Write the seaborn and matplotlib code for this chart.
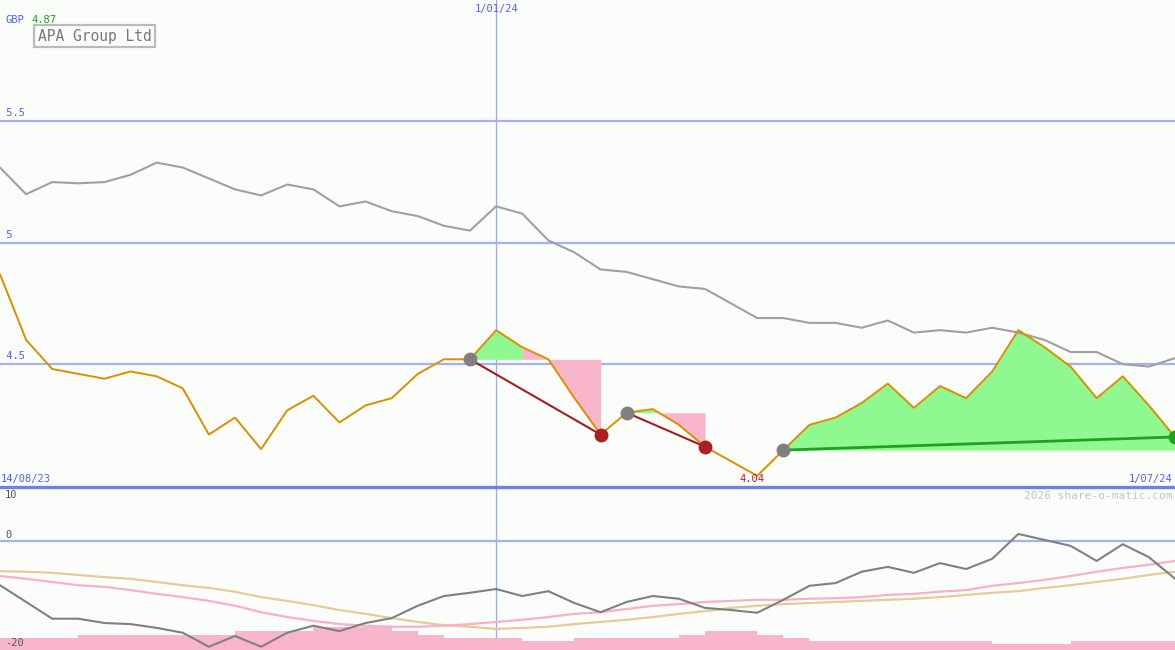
import matplotlib
matplotlib.use('Agg')
import matplotlib.pyplot as plt
import pandas as pd
import seaborn as sns

# weekly closes, APA Group Ltd (GBP) and comparison index (rescaled)
weeks = pd.date_range('2023-08-21', periods=46, freq='7D')
price = [4.87, 4.60, 4.48, 4.46, 4.44, 4.47, 4.45, 4.40, 4.21, 4.28,
         4.15, 4.31, 4.37, 4.26, 4.33, 4.36, 4.46, 4.52, 4.52, 4.64,
         4.57, 4.52, 4.36, 4.21, 4.30, 4.315, 4.25, 4.16, 4.10, 4.04,
         4.146, 4.25, 4.28, 4.34, 4.42, 4.32, 4.41, 4.36, 4.47, 4.64,
         4.57, 4.49, 4.36, 4.45, 4.33, 4.20]
index_line = [5.31, 5.20, 5.25, 5.245, 5.25, 5.28, 5.33, 5.31, 5.265, 5.22,
              5.195, 5.24, 5.22, 5.15, 5.17, 5.13, 5.11, 5.07, 5.05, 5.15,
              5.12, 5.01, 4.96, 4.89, 4.88, 4.85, 4.82, 4.81, 4.75, 4.69,
              4.69, 4.67, 4.67, 4.65, 4.68, 4.63, 4.64, 4.63, 4.65, 4.63,
              4.60, 4.55, 4.55, 4.50, 4.49, 4.525]

# lower panel: momentum and two moving averages
momentum = [-8.2, -11.3, -14.4, -14.4, -15.2, -15.4, -16.1, -17.0, -19.6, -17.6,
            -19.6, -17.0, -15.7, -16.7, -15.2, -14.3, -12.0, -10.2, -9.6, -8.9,
            -10.2, -9.3, -11.5, -13.2, -11.3, -10.2, -10.7, -12.4, -12.8, -13.3,
            -10.9, -8.3, -7.8, -5.7, -4.8, -5.9, -4.1, -5.2, -3.3, 1.3,
            0.2, -0.9, -3.7, -0.6, -3.0, -7.0]
ma_fast = [-6.5, -7.0, -7.6, -8.2, -8.5, -9.1, -9.8, -10.4, -11.1, -12.0,
           -13.2, -14.1, -14.8, -15.4, -15.7, -15.9, -15.9, -15.7, -15.4, -15.0,
           -14.6, -14.1, -13.5, -13.2, -12.6, -12.0, -11.7, -11.3, -11.1, -10.9,
           -10.9, -10.7, -10.6, -10.4, -10.0, -9.8, -9.4, -9.1, -8.3, -7.8,
           -7.2, -6.5, -5.7, -5.0, -4.4, -3.7]
ma_slow = [-5.6, -5.7, -5.9, -6.3, -6.7, -7.0, -7.6, -8.2, -8.7, -9.4,
           -10.4, -11.1, -11.9, -12.8, -13.5, -14.3, -15.0, -15.6, -15.9, -16.3,
           -16.1, -15.9, -15.4, -15.0, -14.6, -14.1, -13.5, -13.0, -12.4, -12.0,
           -11.7, -11.5, -11.3, -11.1, -10.9, -10.7, -10.4, -10.0, -9.6, -9.3,
           -8.7, -8.2, -7.6, -7.0, -6.3, -5.7]
volume_top = [-18.0, -18.0, -18.0, -17.4, -17.4, -17.4, -17.4, -17.4, -17.4, -16.7,
              -16.7, -16.7, -15.9, -15.9, -15.9, -16.7, -17.4, -18.0, -18.0, -18.0,
              -18.5, -18.5, -18.0, -18.0, -18.0, -18.0, -17.4, -16.7, -16.7, -17.4,
              -18.0, -18.5, -18.5, -18.5, -18.5, -18.5, -18.5, -18.5, -19.1, -19.1,
              -19.1, -18.5, -18.5, -18.5, -18.5]

# trades: (start week, end week, split week where green turns pink)
trades = [(18, 23, 20), (24, 27, 25), (30, 45, 45)]

bg = '#fbfdfb'
green_fill = '#90f890'
pink_fill = '#f9b5ca'
grid_blue = '#a4b0f0'
label_blue = '#5060f0'

sns.set_style('white')
plt.rcParams['font.family'] = ['DejaVu Sans Mono']

fig = plt.figure(figsize=(11.75, 6.5), dpi=100, facecolor=bg)
ax = fig.add_axes([0, 163 / 650, 1, 487 / 650], facecolor=bg)
ax2 = fig.add_axes([0, 0, 1, 163 / 650], facecolor=bg)

for a in (ax, ax2):
    for s in a.spines.values():
        s.set_visible(False)
    a.set_xticks([])
    a.set_yticks([])
    a.set_xlim(weeks[0], weeks[-1])
    a.axvline(pd.Timestamp('2024-01-01'), color='#a0a8ee', lw=0.9, zorder=1)

ax.set_ylim(3.994, 6.0)
ax2.set_ylim(-20.2, 10)

for lvl in [5.5, 5.0, 4.5]:
    ax.axhline(lvl, color=grid_blue, lw=1.6, zorder=1)
    ax.text(weeks[0], lvl + 0.012, ' ' + str(lvl).rstrip('0').rstrip('.'),
            color=label_blue, fontsize=7.5, va='bottom', ha='left')

# trade shading and markers
for s, e, m in trades:
    lvl = price[s]
    ax.fill_between(weeks[s:m + 1], price[s:m + 1], lvl, color=green_fill,
                    lw=0, zorder=2)
    if e > m:
        ax.fill_between(weeks[m:e + 1], price[m:e + 1], lvl, color=pink_fill,
                        lw=0, zorder=2)

sns.lineplot(x=weeks, y=index_line, ax=ax, color='#a0a0a0', lw=1.5, zorder=3)
sns.lineplot(x=weeks, y=price, ax=ax, color='#d99000', lw=1.4, zorder=4)

for s, e, m in trades:
    win = price[e] > price[s]
    col = '#22a022' if win else '#a02020'
    ax.plot([weeks[s], weeks[e]], [price[s], price[e]], color=col,
            lw=2 if win else 1.5, zorder=5)
    ax.plot(weeks[s], price[s], 'o', color='#808080', ms=9, zorder=6,
            clip_on=False)
    ax.plot(weeks[e], price[e], 'o', color='#22a022' if win else '#aa2020',
            ms=9, zorder=6, clip_on=False)

# lower panel
ax2.axhline(0, color=grid_blue, lw=1.6, zorder=1)
ax2.axhline(10, color='#7080e8', lw=2.4, zorder=7, clip_on=False)
ax2.bar(weeks[:-1], [v + 20.2 for v in volume_top], bottom=-20.2,
        width=7, align='edge', color=pink_fill, lw=0, zorder=2)
sns.lineplot(x=weeks, y=ma_slow, ax=ax2, color='#e2cc98', lw=1.6, zorder=3)
sns.lineplot(x=weeks, y=ma_fast, ax=ax2, color='#f8b0c8', lw=1.6, zorder=3)
sns.lineplot(x=weeks, y=momentum, ax=ax2, color='#808080', lw=1.5, zorder=4)


def px(x, y):
    return x / 1175, 1 - y / 650


fig.text(*px(5, 20), 'GBP', color=label_blue, fontsize=7.5, va='center')
fig.text(*px(31, 20), '4.87', color='#229922', fontsize=7.5, va='center')
fig.text(*px(38, 36), 'APA Group Ltd', color='#777777', fontsize=10.5,
         va='center', ha='left',
         bbox=dict(boxstyle='square,pad=0.25', fc='none', ec='#bbbbbb', lw=1.6))
fig.text(*px(497, 9), '1/01/24', color=label_blue, fontsize=7.5,
         va='center', ha='center')
fig.text(*px(1, 479), '14/08/23', color=label_blue, fontsize=7.5,
         va='center', ha='left')
fig.text(*px(1172, 479), '1/07/24', color=label_blue, fontsize=7.5,
         va='center', ha='right')
fig.text(*px(752, 479), '4.04', color='#aa2222', fontsize=7.5,
         va='center', ha='center')
fig.text(*px(1172, 496), '2026 share-o-matic.com', color='#c4c4c4',
         fontsize=8, va='center', ha='right')
fig.text(*px(5, 495), '10', color='#555555', fontsize=7.5, va='center')
fig.text(*px(5, 535), '0', color='#555555', fontsize=7.5, va='center')
fig.text(*px(5, 643), '-20', color='#555555', fontsize=7.5, va='center')

fig.savefig('out.png', dpi=100, facecolor=bg)
